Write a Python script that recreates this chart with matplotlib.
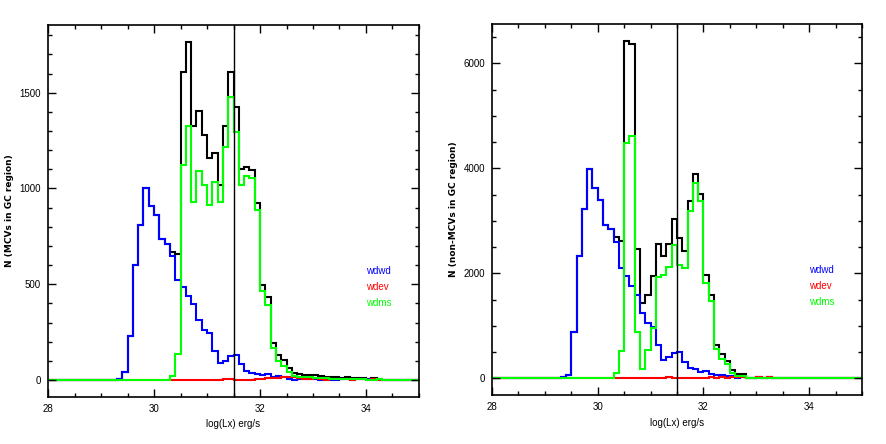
import numpy as np
import matplotlib
matplotlib.use("Agg")
import matplotlib.pyplot as plt
from matplotlib.ticker import MultipleLocator

plt.rcParams['font.family'] = ['Liberation Sans', 'DejaVu Sans']

# log(Lx) bins, 0.1 dex wide
bin_lo = 28.0
bin_hi = 35.0
bin_w = 0.1
lx_cut = 31.5

# MCVs in GC region: counts per bin, first bin at *_start
mcv_wdwd_start = 29.3
mcv_wdwd = [6, 44, 230, 598, 808, 1004, 911, 864, 738, 711,
            648, 522, 487, 438, 395, 312, 260, 246, 151, 88,
            102, 125, 130, 82, 46, 36, 34, 24, 30, 15,
            20, 15, 6, 2, 4, 3, 5, 3, 2, 3,
            2, 2, 3, 4, 2, 5, 5, 4, 3, 1]
mcv_wdev_start = 30.3
mcv_wdev = [0, 0, 0, 0, 0, 0, 0, 0, 0, 0,
            8, 3, 2, 2, 2, 2, 5, 8, 12, 12,
            10, 14, 18, 15, 12, 8, 5, 10, 5, 2,
            4, 8, 3, 6, 2, 3, 4, 2, 4, 2]
mcv_wdms_start = 30.3
mcv_wdms = [20, 134, 1121, 1327, 930, 1091, 1018, 912, 1035, 928,
            1214, 1480, 1293, 1020, 1065, 1056, 886, 465, 391, 169,
            102, 76, 41, 20, 18, 15, 18, 12, 12, 10,
            8, 8, 5, 8, 5, 3, 3, 2, 2, 4, 2]

# non-MCVs in GC region
nmcv_wdwd_start = 29.3
nmcv_wdwd = [34, 67, 890, 2328, 3220, 3994, 3626, 3405, 2917, 2841,
             2600, 2094, 1948, 1758, 1587, 1251, 1049, 984, 637, 352,
             414, 490, 509, 320, 193, 174, 117, 142, 85, 66,
             70, 47, 38, 5, 20]
nmcv_wdev_start = 30.3
nmcv_wdev = [0, 0, 0, 0, 0, 0, 0, 0, 0, 0,
             20, 0, 0, 0, 0, 0, 15, 10, 20, 15,
             25, 15, 20, 30, 20, 10, 15, 30, 5, 20, 5]
nmcv_wdms_start = 30.3
nmcv_wdms = [99, 528, 4480, 4615, 878, 180, 541, 960, 1930, 1976,
             2126, 2550, 2157, 2110, 3189, 3721, 3379, 1821, 1479, 555,
             365, 276, 111, 47, 40, 5]

edges = np.round(np.arange(bin_lo, bin_hi + bin_w / 2, bin_w), 1)
n_bins = len(edges) - 1


def counts(start, vals):
    out = np.zeros(n_bins)
    i0 = int(round((start - bin_lo) / bin_w))
    out[i0:i0 + len(vals)] = vals
    return out


def panel(ax, wdwd, wdev, wdms, ylabel, major, minor):
    total = wdwd + wdev + wdms
    lw = 1.5
    ax.stairs(total, edges, color='black', lw=lw)
    ax.stairs(wdwd, edges, color='#0000ff', lw=lw)
    ax.stairs(wdev, edges, color='#ff0000', lw=lw)
    ax.stairs(wdms, edges, color='#00ff00', lw=lw)
    ax.axvline(lx_cut, color='black', lw=1.0)

    top = total.max()
    ax.set_xlim(bin_lo, bin_hi)
    ax.set_ylim(-0.05 * top, 1.05 * top)
    ax.xaxis.set_major_locator(MultipleLocator(2))
    ax.xaxis.set_minor_locator(MultipleLocator(0.5))
    ax.yaxis.set_major_locator(MultipleLocator(major))
    ax.yaxis.set_minor_locator(MultipleLocator(minor))
    ax.tick_params(which='both', direction='in', top=True, right=True,
                   labelsize=7, width=1.0)
    ax.tick_params(which='major', length=6, pad=5)
    ax.tick_params(which='minor', length=3)
    for s in ax.spines.values():
        s.set_linewidth(1.2)

    ax.set_xlabel('log(Lx) erg/s', fontsize=7, labelpad=4)
    ax.set_ylabel(ylabel, fontsize=6.5, fontweight='bold',
                  family=['DejaVu Sans'])

    tx = 0.858
    ax.text(tx, 0.338, 'wdwd', color='#0000ff', fontsize=7,
            transform=ax.transAxes, va='center')
    ax.text(tx, 0.295, 'wdev', color='#ff0000', fontsize=7,
            transform=ax.transAxes, va='center')
    ax.text(tx, 0.252, 'wdms', color='#00ff00', fontsize=7,
            transform=ax.transAxes, va='center')


fig = plt.figure(figsize=(8.86, 4.44), dpi=100)
ax1 = fig.add_axes([0.0542, 0.1059, 0.4187, 0.8378])
ax2 = fig.add_axes([0.5553, 0.1097, 0.4176, 0.8363])

panel(ax1,
      counts(mcv_wdwd_start, mcv_wdwd),
      counts(mcv_wdev_start, mcv_wdev),
      counts(mcv_wdms_start, mcv_wdms),
      'N (MCVs in GC region)', 500, 100)
panel(ax2,
      counts(nmcv_wdwd_start, nmcv_wdwd),
      counts(nmcv_wdev_start, nmcv_wdev),
      counts(nmcv_wdms_start, nmcv_wdms),
      'N (non-MCVs in GC region)', 2000, 500)

fig.savefig('out.png', dpi=100)
